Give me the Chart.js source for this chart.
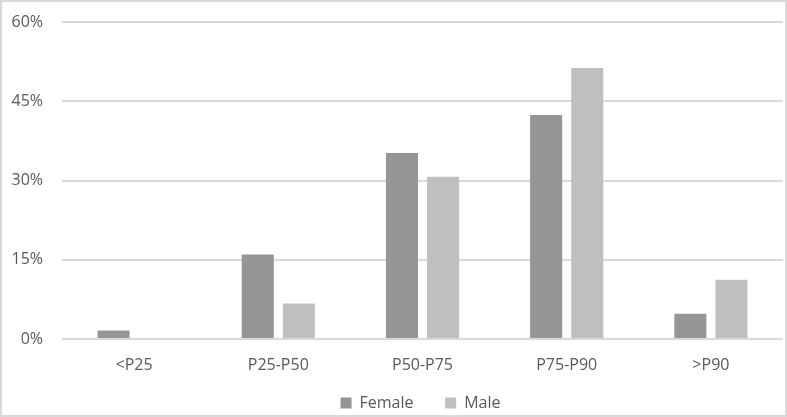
<!DOCTYPE html>
<html>
<head>
<meta charset="utf-8">
<script src="https://cdn.jsdelivr.net/npm/chart.js@4/dist/chart.umd.min.js"></script>
<style>
  body { margin: 0; background: #fff; }
  #wrap { width: 787px; height: 417px; box-sizing: border-box; border: 2px solid #d9d9d9; }
</style>
</head>
<body>
<div id="wrap"><canvas id="chart" width="783" height="413"></canvas></div>
<script>
// Data for the chart
const categories = ['<P25', 'P25-P50', 'P50-P75', 'P75-P90', '>P90'];
const female = [1.6, 16.0, 35.2, 42.4, 4.8];
const male = [0, 6.7, 30.7, 51.3, 11.2];
const yTicks = [0, 15, 30, 45, 60];

// nudge the legend a bit to the right, like the original
const legendShift = {
  id: 'legendShift',
  afterLayout(chart) {
    chart.legend.left += 28;
    chart.legend.right += 28;
  }
};

window.onload = function () {
  const ctx = document.getElementById('chart').getContext('2d');
  Chart.defaults.font.family = '"Open Sans", sans-serif';
  Chart.defaults.font.size = 16;
  Chart.defaults.color = '#595959';

  new Chart(ctx, {
    type: 'bar',
    data: {
      labels: categories,
      datasets: [
        { label: 'Female', data: female, backgroundColor: '#959595', barPercentage: 0.78, categoryPercentage: 0.57 },
        { label: 'Male', data: male, backgroundColor: '#bfbfbf', barPercentage: 0.78, categoryPercentage: 0.57 }
      ]
    },
    plugins: [legendShift],
    options: {
      responsive: false,
      animation: false,
      layout: { padding: { top: 20, left: 0, right: 2, bottom: -6 } },
      plugins: {
        tooltip: { enabled: false },
        legend: {
          position: 'bottom',
          labels: {
            boxWidth: 11, boxHeight: 11, padding: 5,
            generateLabels: (chart) => {
              const items = Chart.defaults.plugins.legend.labels.generateLabels(chart);
              items[0].text += '\u2003\u2002\u2009';
              return items;
            }
          }
        }
      },
      scales: {
        x: {
          grid: { display: false, drawTicks: false },
          border: { display: false },
          ticks: { padding: 17 },
          afterFit: (axis) => { axis.height = 51; }
        },
        y: {
          min: 0,
          max: 60,
          afterBuildTicks: (axis) => { axis.ticks = yTicks.map(v => ({ value: v })); },
          afterFit: (axis) => {
            axis.width = 60;
            axis.paddingTop = 0;
            axis.paddingBottom = 0;
          },
          grid: { color: '#d9d9d9', lineWidth: 2, drawTicks: false },
          border: { display: false },
          ticks: { padding: 19, callback: v => v + '%' }
        }
      }
    }
  });
};
</script>
</body>
</html>
